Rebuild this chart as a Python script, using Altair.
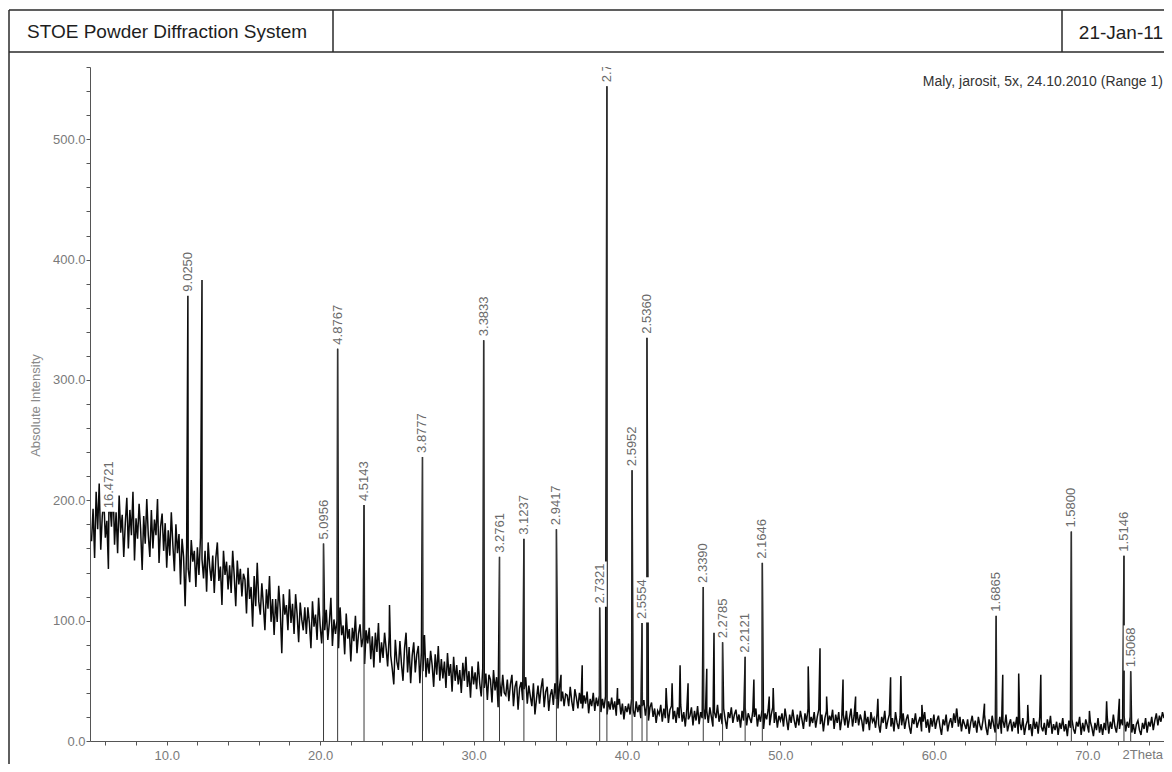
import altair as alt
import numpy as np
import pandas as pd

# ---------------- data ----------------
# background counts, sampled every 0.1 deg 2Theta starting at 5.1 deg
bg_start = 5.1
bg_step = 0.1
bg_05_15 = [
    166, 193, 152, 207, 176, 214, 159, 187, 200, 169,
    183, 143, 197, 178, 212, 163, 190, 156, 204, 173,
    188, 153, 181, 202, 160, 192, 171, 207, 150, 185,
    168, 197, 176, 142, 187, 164, 201, 171, 153, 192,
    160, 184, 171, 201, 148, 178, 189, 158, 181, 144,
    175, 154, 190, 163, 141, 180, 156, 172, 130, 168,
    153, 112, 161, 143, 132, 167, 149, 158, 128, 161,
    138, 169, 151, 135, 158, 124, 165, 145, 133, 154,
    123, 152, 165, 133, 145, 113, 158, 138, 149, 126,
    146, 123, 158, 137, 112, 150, 130, 143, 120, 139]
bg_15_25 = [
    134, 106, 144, 118, 128, 95, 137, 112, 148, 116,
    105, 131, 113, 92, 126, 110, 137, 99, 118, 88,
    118, 99, 129, 109, 73, 122, 105, 113, 92, 126,
    98, 114, 89, 122, 105, 82, 115, 101, 92, 111,
    89, 111, 98, 77, 116, 95, 105, 84, 119, 96,
    81, 105, 92, 109, 84, 98, 119, 79, 101, 89,
    100, 77, 111, 88, 96, 72, 106, 85, 93, 66,
    94, 83, 104, 73, 89, 97, 78, 86, 64, 92,
    81, 94, 68, 87, 61, 90, 74, 98, 65, 82,
    69, 90, 77, 62, 87, 71, 60, 47, 84, 66]
bg_25_35 = [
    59, 83, 64, 50, 77, 90, 57, 78, 48, 71,
    82, 57, 72, 79, 48, 74, 58, 88, 53, 69,
    56, 75, 63, 45, 72, 55, 79, 50, 68, 52,
    66, 44, 73, 54, 64, 41, 70, 50, 63, 47,
    59, 40, 65, 50, 70, 45, 58, 36, 62, 47,
    57, 43, 66, 48, 37, 61, 44, 56, 34, 55,
    51, 32, 59, 42, 53, 28, 50, 37, 55, 40,
    38, 51, 33, 47, 55, 29, 45, 50, 26, 44,
    49, 34, 43, 53, 31, 46, 37, 29, 48, 22,
    35, 46, 31, 44, 52, 28, 41, 45, 25, 38]
bg_35_45 = [
    43, 30, 48, 35, 27, 45, 33, 41, 29, 39,
    38, 29, 45, 33, 25, 43, 36, 27, 40, 31,
    27, 38, 31, 41, 23, 35, 29, 40, 25, 36,
    29, 38, 24, 35, 27, 37, 22, 33, 26, 36,
    26, 33, 21, 30, 35, 22, 31, 18, 29, 24,
    31, 22, 35, 26, 20, 33, 24, 30, 19, 29,
    34, 21, 30, 17, 28, 32, 20, 27, 15, 25,
    22, 30, 16, 27, 19, 31, 15, 26, 29, 18,
    25, 15, 28, 19, 30, 16, 24, 12, 27, 18,
    21, 28, 13, 25, 17, 29, 14, 24, 19, 27]
bg_45_55 = [
    18, 25, 15, 28, 20, 12, 24, 19, 30, 16,
    23, 14, 27, 18, 10, 24, 19, 28, 15, 22,
    26, 16, 22, 11, 25, 17, 28, 13, 23, 19,
    15, 25, 20, 27, 12, 22, 16, 26, 10, 23,
    18, 26, 13, 22, 28, 15, 24, 11, 21, 17,
    23, 12, 27, 18, 9, 22, 15, 26, 17, 11,
    22, 13, 25, 18, 10, 23, 16, 27, 12, 20,
    15, 24, 11, 20, 26, 14, 22, 8, 19, 25,
    13, 21, 17, 26, 10, 22, 15, 24, 9, 19,
    22, 13, 25, 11, 19, 27, 12, 21, 15, 24]
bg_55_65 = [
    13, 22, 17, 8, 25, 14, 20, 9, 24, 16,
    19, 11, 23, 14, 7, 20, 15, 25, 10, 17,
    22, 12, 19, 8, 24, 15, 10, 20, 13, 23,
    10, 18, 22, 12, 6, 19, 14, 23, 11, 16,
    20, 8, 16, 24, 11, 18, 7, 19, 12, 22,
    10, 17, 21, 12, 5, 18, 13, 22, 8, 15,
    19, 11, 23, 15, 26, 12, 20, 8, 18, 14,
    10, 18, 6, 15, 21, 11, 17, 7, 20, 13,
    9, 17, 22, 11, 5, 18, 10, 21, 13, 7,
    15, 10, 20, 6, 17, 11, 22, 8, 14, 18]
bg_65_75 = [
    8, 16, 11, 20, 6, 15, 9, 19, 5, 13,
    17, 9, 14, 4, 19, 10, 16, 6, 20, 12,
    8, 15, 5, 18, 11, 21, 6, 14, 9, 16,
    5, 15, 10, 19, 8, 14, 4, 17, 11, 18,
    10, 6, 16, 12, 20, 5, 15, 8, 18, 13,
    7, 16, 11, 4, 15, 9, 19, 7, 14, 5,
    15, 9, 20, 6, 16, 10, 22, 12, 7, 17,
    10, 18, 13, 21, 8, 16, 11, 20, 7, 14,
    6, 14, 17, 9, 5, 15, 10, 19, 7, 16,
    12, 20, 9, 17, 23, 13, 21, 16, 24, 19]

# unlabelled reflections (2Theta, counts)
minor_theta = [12.30, 24.52, 35.70, 37.08, 39.38, 42.55, 42.94, 43.46, 43.98, 45.20,
               45.67, 48.27, 49.27, 49.53, 51.81, 52.58, 53.01, 54.08, 54.90, 56.35,
               57.18, 57.85, 59.22, 61.48, 63.30, 64.49, 65.53, 66.12, 66.97, 70.14,
               71.26, 72.09]
minor_int = [383, 113, 55, 63, 44, 44, 48, 63, 48, 60,
             90, 51, 37, 44, 62, 77, 37, 51, 37, 35,
             53, 54, 30, 27, 31, 55, 56, 30, 55, 25,
             33, 35]

# labelled reflections: d-spacing label, 2Theta, counts
lab_d = ["16.4721", "9.0250", "5.0956", "4.8767", "4.5143", "3.8777", "3.3833",
         "3.2761", "3.1237", "2.9417", "2.7321", "2.7003", "2.5952", "2.5554",
         "2.5360", "2.3390", "2.2785", "2.2121", "2.1646", "1.6865", "1.5800",
         "1.5146", "1.5068"]
lab_theta = [6.23, 11.38, 20.22, 21.14, 22.86, 26.67, 30.66, 31.69, 33.28, 35.40,
             38.22, 38.69, 40.33, 40.98, 41.30, 44.97, 46.23, 47.70, 48.82, 64.06,
             68.96, 72.39, 72.83]
lab_int = [190, 370, 164, 326, 196, 236, 333, 153, 168, 176,
           111, 544, 225, 98, 335, 128, 82, 70, 148, 104,
           174, 154, 58]

x_ticks = list(range(6, 75, 2))
y_ticks = list(range(0, 561, 20))

# ---------------- tables ----------------
background = bg_05_15 + bg_15_25 + bg_25_35 + bg_35_45 + bg_45_55 + bg_55_65 + bg_65_75
bg_theta = np.round(bg_start + bg_step * np.arange(len(background)), 2)

pattern = pd.concat([
    pd.DataFrame({"theta": bg_theta, "I": background}),
    pd.DataFrame({"theta": minor_theta, "I": minor_int}),
    pd.DataFrame({"theta": lab_theta, "I": lab_int}),
]).sort_values("theta").reset_index(drop=True)

peaks = pd.DataFrame({"theta": lab_theta, "I": lab_int, "d": lab_d})
deco = pd.DataFrame({"k": [0]})

FONT = "Liberation Sans"
xs = alt.Scale(domain=[5, 75], nice=False, zero=False)
ys = alt.Scale(domain=[0, 560], nice=False, zero=True)

x_axis = alt.Axis(values=x_ticks, labelExpr="datum.value % 10 === 0 ? format(datum.value, '.1f') : ''",
                  title=None, grid=False, tickSize=4, labelPadding=4, labelFlush=False,
                  labelOverlap=False,
                  domainColor="#555555", tickColor="#555555", labelColor="#7a7a7a",
                  labelFont=FONT, labelFontSize=13)
y_axis = alt.Axis(values=y_ticks, labelExpr="datum.value % 100 === 0 ? format(datum.value, '.1f') : ''",
                  title="Absolute Intensity", grid=False, tickSize=4, labelPadding=1, labelFlush=False,
                  labelOverlap=False,
                  domainColor="#555555", tickColor="#555555", labelColor="#7a7a7a",
                  labelFont=FONT, labelFontSize=13,
                  titleFont=FONT, titleFontSize=13, titleFontWeight="normal", titleColor="#8a8a8a",
                  titleAngle=270, titleX=-55, titleY=338, titleAlign="center", titleBaseline="middle")

def X(field):
    return alt.X(field, scale=xs, axis=x_axis)

def Y(field):
    return alt.Y(field, scale=ys, axis=y_axis)

line = alt.Chart(pattern).mark_line(color="#0a0a0a", strokeWidth=1.5).encode(
    x=X("theta:Q"), y=Y("I:Q"),
)

sticks = alt.Chart(peaks).transform_filter("datum.theta > 15").transform_calculate(
    base="0"
).mark_rule(color="#3a3a3a", strokeWidth=1).encode(
    x=X("theta:Q"), y=Y("I:Q"), y2="base:Q"
)

boxes = alt.Chart(peaks).transform_calculate(
    bx1="datum.theta - 0.46",
    bx2="datum.theta + 0.46",
    by1="datum.I + 0.5",
    by2="datum.I + (length(datum.d) * 7.23 + 2.4) * 0.831",
).mark_rect(color="white", clip=True).encode(
    x=X("bx1:Q"), x2="bx2:Q", y=Y("by1:Q"), y2="by2:Q"
)

labels = alt.Chart(peaks).mark_text(
    angle=270, align="left", baseline="middle", dx=4, fontSize=13, font=FONT,
    color="#6a6a6a", clip=True
).encode(x=X("theta:Q"), y=Y("I:Q"), text="d:N")

# ---------------- frame / header decoration (pixel positions) ----------------
FRAME = "#2a2a2a"
def hrule(y, x1, x2):
    return alt.Chart(deco).mark_rule(color=FRAME, strokeWidth=1.5).encode(
        x=alt.value(x1), x2=alt.value(x2), y=alt.value(y))

def vrule(x, y1, y2):
    return alt.Chart(deco).mark_rule(color=FRAME, strokeWidth=1.5).encode(
        x=alt.value(x), y=alt.value(y1), y2=alt.value(y2))

def label(text, x, y, size, align, color):
    return alt.Chart(deco).mark_text(text=text, align=align, baseline="middle",
                                     fontSize=size, font=FONT, color=color).encode(
        x=alt.value(x), y=alt.value(y))

decor = [
    hrule(-57, -81, 1074),
    hrule(-15, -81, 1074),
    vrule(-81, -57, 697),
    vrule(243, -57, -15),
    vrule(972, -57, -15),
    label("STOE Powder Diffraction System", -63, -35, 19, "left", "#1e1e1e"),
    label("21-Jan-11", 1073, -34, 19, "right", "#1e1e1e"),
    label("Maly, jarosit, 5x, 24.10.2010 (Range 1)", 1073, 15, 14, "right", "#333333"),
    label("2Theta", 1073, 688, 13, "right", "#7a7a7a"),
]

chart = alt.layer(line, sticks, boxes, labels, *decor).properties(
    width=1074, height=674,
    padding={"left": 82, "top": 59, "right": 0, "bottom": 23},
    autosize=alt.AutoSizeParams(type="none"),
    background="white",
).configure_view(stroke=None).configure_axis(labelOverlap=False)

chart.save("out.html", embed_options={"renderer": "svg", "actions": False})
